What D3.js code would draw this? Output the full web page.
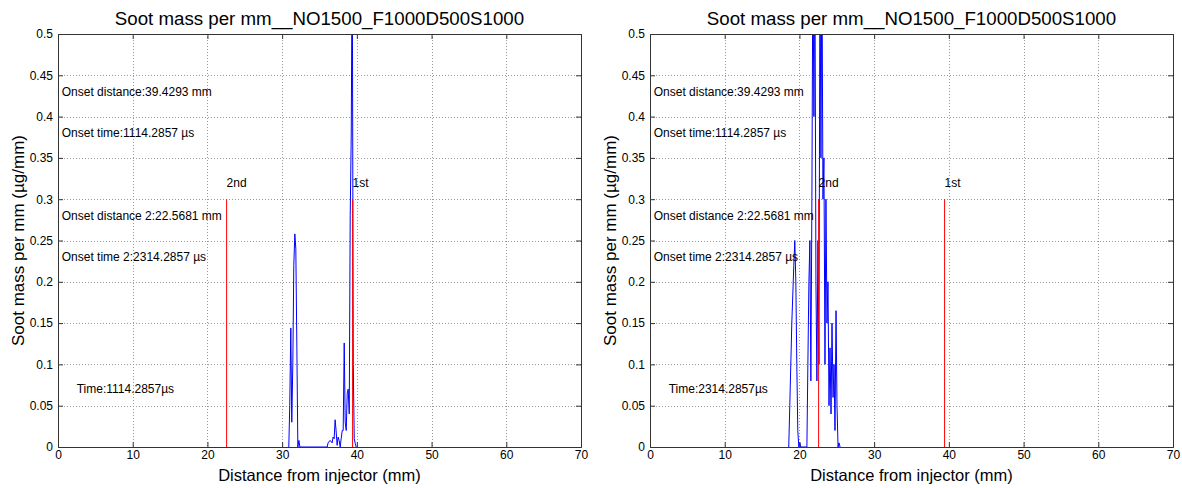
<!DOCTYPE html>
<html><head><meta charset="utf-8">
<script src="https://cdn.jsdelivr.net/npm/d3@7"></script>
<style>body{margin:0;background:#fff;}svg{display:block;font-family:Arial,"Liberation Sans",sans-serif;}</style>
</head><body><svg id="c" width="1182" height="488"></svg>
<script>
const titleText = "Soot mass per mm__NO1500_F1000D500S1000";
const xLabel = "Distance from injector (mm)";
const yLabel = "Soot mass per mm (\u00b5g/mm)";
const xTicks = [0,10,20,30,40,50,60,70];
const yTicks = [0,0.05,0.1,0.15,0.2,0.25,0.3,0.35,0.4,0.45,0.5];

// Left panel (t = 1114.2857 us)
const distLeft = [30.89,31.02,31.16,31.29,31.43,31.56,31.70,31.83,31.97,32.10,32.24,32.37,
  36.02,36.15,36.42,36.69,36.82,36.96,37.09,37.22,37.36,37.49,37.63,37.77,37.90,38.04,38.17,38.31,38.44,38.58,38.71,38.84,38.98,39.11,39.25,39.38,39.52,39.65,39.79,39.92];
const sootLeft = [0,0.05,0.144,0.03,0.1,0.22,0.258,0.24,0.12,0,0.008,0,
  0,0.005,0.008,0.005,0.012,0.01,0.033,0.02,0.002,0.012,0.008,0,0.01,0.02,0.02,0.126,0.03,0.02,0.065,0.07,0.04,0.28,0.38,0.62,0.1,0.01,0.004,0];

// Right panel (t = 2314.2857 us)
const distRight = [18.57,18.71,18.98,19.25,19.38,19.52,19.65,19.78,19.92,20.05,20.19,
  21.00,21.13,21.27,21.40,21.53,21.67,21.80,21.94,22.07,22.21,22.34,22.48,22.61,22.75,22.88,23.01,23.15,23.28,23.42,23.55,23.69,23.82,23.96,24.09,24.23,24.36,24.50,24.63,24.76,24.90,25.03,25.17,25.30,25.44];
const sootRight = [0,0.05,0.15,0.22,0.25,0.2,0.1,0.02,0,0.005,0,
  0,0.1,0.2,0.25,0.08,0.3,0.6,0.4,0.6,0.2,0.08,0.25,0.1,0.6,0.35,0.6,0.3,0.35,0.1,0.3,0.15,0.2,0.05,0.12,0.04,0.15,0.06,0.1,0.02,0.165,0.05,0,0.005,0];

const onsetDist1 = 39.4293, onsetDist2 = 22.5681;
const onsetLineTop = 0.3;
const panels = [
  {x0:58, x1:581, dist:distLeft, soot:sootLeft, time:"Time:1114.2857\u00b5s"},
  {x0:650, x1:1173, dist:distRight, soot:sootRight, time:"Time:2314.2857\u00b5s"}
];
const annotations = [
  {y:0.43, t:"Onset distance:39.4293 mm"},
  {y:0.38, t:"Onset time:1114.2857 \u00b5s"},
  {y:0.28, t:"Onset distance 2:22.5681 mm"},
  {y:0.23, t:"Onset time 2:2314.2857 \u00b5s"}
];

const svg = d3.select("#c");
const yTop = 34, yBot = 447;
panels.forEach((p,i)=>{
  const x = d3.scaleLinear().domain([0,70]).range([p.x0,p.x1]);
  const y = d3.scaleLinear().domain([0,0.5]).range([yBot,yTop]);
  const g = svg.append("g");
  // grid
  g.append("g").selectAll("line").data(xTicks.slice(1,-1)).join("line")
    .attr("x1",d=>Math.round(x(d))+0.5).attr("x2",d=>Math.round(x(d))+0.5).attr("y1",yTop).attr("y2",yBot)
    .attr("stroke","#999").attr("stroke-dasharray","1,2").attr("stroke-width",1);
  g.append("g").selectAll("line").data(yTicks.slice(1,-1)).join("line")
    .attr("y1",d=>Math.round(y(d))+0.5).attr("y2",d=>Math.round(y(d))+0.5).attr("x1",p.x0).attr("x2",p.x1)
    .attr("stroke","#999").attr("stroke-dasharray","1,2").attr("stroke-width",1);
  // clip
  const cid = "clip"+i;
  svg.append("defs").append("clipPath").attr("id",cid).append("rect")
    .attr("x",p.x0).attr("y",yTop).attr("width",p.x1-p.x0).attr("height",yBot-yTop);
  const pts = p.dist.map((d,k)=>[d,p.soot[k]]);
  g.append("path").datum(pts).attr("clip-path",`url(#${cid})`)
    .attr("d",d3.line().x(d=>x(d[0])).y(d=>y(d[1])))
    .attr("fill","none").attr("stroke","#0000ff").attr("stroke-width",1);
  // onset lines
  [onsetDist1, onsetDist2].forEach(od=>{
    g.append("line").attr("x1",x(od)).attr("x2",x(od)).attr("y1",y(0)).attr("y2",y(onsetLineTop))
      .attr("stroke","#ff0000").attr("stroke-width",1);
  });
  g.append("text").attr("x",x(onsetDist1)).attr("y",y(0.32)).attr("dy","0.35em").attr("font-size",12).text("1st");
  g.append("text").attr("x",x(onsetDist2)).attr("y",y(0.32)).attr("dy","0.35em").attr("font-size",12).text("2nd");
  annotations.forEach(a=>{
    g.append("text").attr("x",x(0.5)).attr("y",y(a.y)).attr("dy","0.35em").attr("font-size",12).text(a.t);
  });
  g.append("text").attr("x",x(2.5)).attr("y",y(0.07)).attr("dy","0.35em").attr("font-size",12).text(p.time);
  // axes
  const ax = g.append("g").attr("transform",`translate(0,${yBot})`)
    .call(d3.axisBottom(x).tickValues(xTicks).tickSize(-5).tickPadding(3));
  const axT = g.append("g").attr("transform",`translate(0,${yTop})`)
    .call(d3.axisTop(x).tickValues(xTicks).tickSize(-5).tickFormat(""));
  const ay = g.append("g").attr("transform",`translate(${p.x0},0)`)
    .call(d3.axisLeft(y).tickValues(yTicks).tickSize(-5).tickPadding(5).tickFormat(d=>d===0?"0":String(d)));
  const ayR = g.append("g").attr("transform",`translate(${p.x1},0)`)
    .call(d3.axisRight(y).tickValues(yTicks).tickSize(-5).tickFormat(""));
  [ax,axT,ay,ayR].forEach(a=>{
    a.selectAll("path").attr("stroke","#333");
    a.selectAll("line").attr("stroke","#333");
    a.selectAll("text").attr("font-size",12).attr("font-family","Arial,'Liberation Sans',sans-serif").attr("fill","#000");
  });
  // labels
  const cx = (p.x0+p.x1)/2;
  g.append("text").attr("x",cx).attr("y",25).attr("text-anchor","middle").attr("font-size",18.7).text(titleText);
  g.append("text").attr("x",cx).attr("y",481).attr("text-anchor","middle").attr("font-size",16.5).text(xLabel);
  g.append("text").attr("transform",`translate(${p.x0-34},${(yTop+yBot)/2}) rotate(-90)`)
    .attr("text-anchor","middle").attr("font-size",17).text(yLabel);
});
</script></body></html>
